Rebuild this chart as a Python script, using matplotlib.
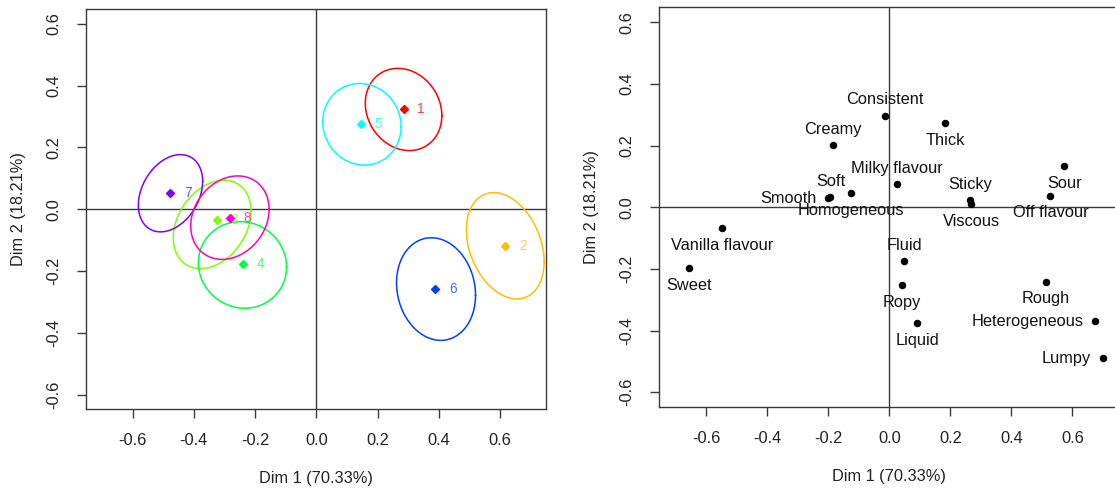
import numpy as np
import matplotlib
matplotlib.use('Agg')
import matplotlib.pyplot as plt

plt.rcParams['font.family'] = ['Liberation Sans', 'DejaVu Sans']

# products (left panel)
products = ['1', '2', '3', '4', '5', '6', '7', '8']
prod_x = [0.285, 0.617, -0.324, -0.240, 0.146, 0.389, -0.477, -0.282]
prod_y = [0.324, -0.120, -0.036, -0.176, 0.275, -0.258, 0.053, -0.029]
# confidence ellipses: centre, spread along dim 1 / dim 2, correlation
ell_x = [0.285, 0.617, -0.340, -0.241, 0.149, 0.391, -0.476, -0.282]
ell_y = [0.323, -0.118, -0.049, -0.180, 0.275, -0.258, 0.052, -0.027]
ell_sx = [0.125, 0.127, 0.127, 0.144, 0.128, 0.129, 0.105, 0.128]
ell_sy = [0.133, 0.172, 0.143, 0.140, 0.132, 0.166, 0.125, 0.135]
ell_rho = [-0.15, -0.30, 0.30, -0.05, -0.06, -0.12, 0.31, 0.20]
prod_colors = ['#FF0000', '#FFBF00', '#80FF00', '#00FF40',
               '#00FFFF', '#0040FF', '#8000FF', '#FF00BF']

# attributes (right panel)
attributes = ['Consistent', 'Thick', 'Creamy', 'Milky flavour', 'Soft', 'Smooth',
              'Homogeneous', 'Vanilla flavour', 'Sweet', 'Fluid', 'Ropy', 'Liquid',
              'Sticky', 'Viscous', 'Sour', 'Off flavour', 'Rough', 'Heterogeneous',
              'Lumpy']
attr_x = [-0.014, 0.182, -0.185, 0.024, -0.193, -0.201, -0.125, -0.549, -0.656,
          0.049, 0.041, 0.091, 0.265, 0.269, 0.574, 0.528, 0.513, 0.675, 0.700]
attr_y = [0.297, 0.274, 0.201, 0.075, 0.032, 0.030, 0.046, -0.066, -0.196,
          -0.175, -0.252, -0.375, 0.023, 0.010, 0.135, 0.038, -0.241, -0.369,
          -0.490]

xlab = 'Dim 1 (70.33%)'
ylab = 'Dim 2 (18.21%)'
ticks = [-0.6, -0.4, -0.2, 0.0, 0.2, 0.4, 0.6]

# where each attribute label sits relative to its point
label_side = {'Consistent': 'above', 'Creamy': 'above', 'Milky flavour': 'above',
              'Soft': 'above', 'Fluid': 'above', 'Sticky': 'above',
              'Smooth': 'left', 'Heterogeneous': 'left', 'Lumpy': 'left'}

FS = 11.8
DARK = '#3a3a3a'


def style_axes(ax, xlim, ylim):
    ax.set_xlim(*xlim)
    ax.set_ylim(*ylim)
    ax.set_xticks(ticks)
    ax.set_yticks(ticks)
    ax.set_xticklabels(['%.1f' % t for t in ticks])
    ax.set_yticklabels(['%.1f' % t for t in ticks])
    ax.tick_params(direction='out', length=6.5, width=1.0, color=DARK,
                   labelsize=FS, labelcolor='#222222', pad=11)
    ax.tick_params(axis='y', labelrotation=90)
    for lab in ax.get_yticklabels():
        lab.set_va('center')
    for s in ax.spines.values():
        s.set_color(DARK)
        s.set_linewidth(1.0)
    ax.axhline(0, color=DARK, lw=1.0, zorder=1)
    ax.axvline(0, color=DARK, lw=1.0, zorder=1)
    ax.set_xlabel(xlab, fontsize=FS, color='#222222')
    ax.set_ylabel(ylab, fontsize=FS, color='#222222')
    ax.xaxis.label.set_va('center')
    ax.yaxis.label.set_va('center')
    ax.xaxis.set_label_coords(0.5, -0.175)
    ax.yaxis.set_label_coords(-0.147, 0.5)


fig = plt.figure(figsize=(11.15, 4.88), dpi=100)
ax1 = fig.add_axes([0.0771, 0.1619, 0.4123, 0.8190])
ax2 = fig.add_axes([0.5910, 0.1666, 0.4132, 0.8184])

# left panel: products with confidence ellipses
t = np.linspace(0, 2 * np.pi, 300)
for i, p in enumerate(products):
    c = prod_colors[i]
    r = ell_rho[i]
    ex = ell_x[i] + ell_sx[i] * np.cos(t)
    ey = ell_y[i] + ell_sy[i] * (r * np.cos(t) + np.sqrt(1 - r ** 2) * np.sin(t))
    ax1.plot(ex, ey, color=c, lw=1.1, zorder=2)
    ax1.plot(prod_x[i], prod_y[i], marker='D', ms=3.6, color=c, ls='none', zorder=3)
    ax1.annotate(p, (prod_x[i], prod_y[i]), xytext=(10, 0), textcoords='offset points',
                 ha='left', va='center', fontsize=9.8, color=c, alpha=0.75)
style_axes(ax1, (-0.752, 0.749), (-0.646, 0.647))

# right panel: attributes
ax2.plot(attr_x, attr_y, 'o', ms=4.4, color='black', zorder=3)
for name, x, y in zip(attributes, attr_x, attr_y):
    side = label_side.get(name, 'below')
    if side == 'above':
        ax2.annotate(name, (x, y), xytext=(0, 11.5), textcoords='offset points',
                     ha='center', va='center', fontsize=FS, color='#111111')
    elif side == 'left':
        ax2.annotate(name, (x, y), xytext=(-8.5, 0), textcoords='offset points',
                     ha='right', va='center', fontsize=FS, color='#111111')
    else:
        ax2.annotate(name, (x, y), xytext=(0, -12.5), textcoords='offset points',
                     ha='center', va='center', fontsize=FS, color='#111111')
style_axes(ax2, (-0.755, 0.755), (-0.647, 0.649))

fig.savefig('out.png', dpi=100)
